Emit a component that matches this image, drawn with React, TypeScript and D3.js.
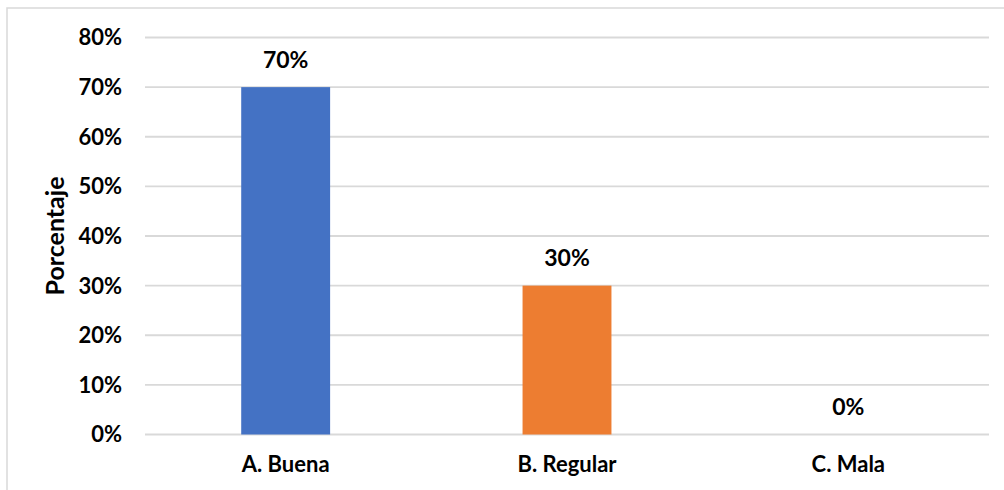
import React from "react";
import * as d3 from "d3";

// Survey result shares per rating category
const categories: string[] = ["A. Buena", "B. Regular", "C. Mala"];
const values: number[] = [0.7, 0.3, 0.0];
const barColors: string[] = ["#4472C4", "#ED7D31", "#A5A5A5"];
const yTicks: number[] = [0, 0.1, 0.2, 0.3, 0.4, 0.5, 0.6, 0.7, 0.8];
const yTitle = "Porcentaje";

const W = 1004;
const H = 490;
const FONT = "Lato, 'Open Sans', sans-serif";

export default function App() {
  const plotLeft = 145;
  const plotRight = 989;
  const plotTop = 37.5;
  const plotBottom = 434.5;

  const x = d3.scaleBand<string>().domain(categories).range([plotLeft, plotRight]).padding(0);
  const y = d3.scaleLinear().domain([0, 0.8]).range([plotBottom, plotTop]);
  const pct = d3.format(".0%");
  const barW = x.bandwidth() * 0.316;

  return (
    <div style={{ position: "absolute", left: 0, top: 0 }}>
      <svg width={W} height={H} style={{ display: "block", background: "#fff" }}>
        {/* chart frame */}
        <rect x={7} y={8} width={W + 10} height={H + 10} fill="#fff" stroke="#d9d9d9" strokeWidth={1.5} />

        {/* gridlines */}
        {yTicks.map((t) => (
          <line key={t} x1={plotLeft} x2={plotRight} y1={y(t)} y2={y(t)} stroke="#d9d9d9" strokeWidth={1.8} />
        ))}

        {/* y tick labels */}
        {yTicks.map((t) => (
          <text
            key={"l" + t}
            x={122}
            y={y(t)}
            dy="0.36em"
            textAnchor="end"
            fontFamily={FONT}
            fontWeight={700}
            fontSize={22}
            fill="#000"
          >
            {pct(t)}
          </text>
        ))}

        {/* y axis title */}
        <text
          transform={`translate(64, ${(plotTop + plotBottom) / 2}) rotate(-90)`}
          textAnchor="middle"
          fontFamily={FONT}
          fontWeight={700}
          fontSize={25}
          fill="#000"
        >
          {yTitle}
        </text>

        {/* bars with value labels */}
        {categories.map((c, i) => {
          const cx = (x(c) as number) + x.bandwidth() / 2;
          const top = y(values[i]);
          return (
            <g key={c}>
              {values[i] > 0 && (
                <rect x={cx - barW / 2} y={top} width={barW} height={plotBottom - top} fill={barColors[i]} />
              )}
              <text
                x={cx}
                y={top - 19.5}
                textAnchor="middle"
                fontFamily={FONT}
                fontWeight={700}
                fontSize={23}
                fill="#000"
              >
                {pct(values[i])}
              </text>
              <text
                x={cx}
                y={472}
                textAnchor="middle"
                fontFamily={FONT}
                fontWeight={700}
                fontSize={22}
                fill="#000"
              >
                {c}
              </text>
            </g>
          );
        })}
      </svg>
    </div>
  );
}
